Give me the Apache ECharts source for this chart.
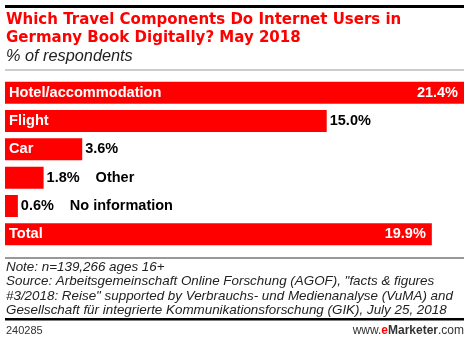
<!DOCTYPE html>
<html><head><meta charset="utf-8">
<script src="https://cdn.jsdelivr.net/npm/echarts@6/dist/echarts.min.js"></script>
<style>html,body{margin:0;padding:0;background:#fff}#c{width:470px;height:342px}</style>
</head><body><div id="c"></div>
<script>
var categories = ['Hotel/accommodation', 'Flight', 'Car', 'Other', 'No information', 'Total'];
var values = [21.4, 15.0, 3.6, 1.8, 0.6, 19.9];
var nameInside = [true, true, true, false, false, true];
var valueInside = [true, false, false, false, false, true];

var F = '"Liberation Sans", Arial, sans-serif';
var FT = '"DejaVu Sans", sans-serif';
var chart = echarts.init(document.getElementById('c'), null, {renderer: 'canvas'});

var nameData = values.map(function (v, i) {
  return {value: v, label: {show: nameInside[i]}};
});
var valData = values.map(function (v, i) {
  var inside = valueInside[i];
  return {
    value: v,
    label: {
      show: true,
      position: inside ? 'insideRight' : 'right',
      distance: inside ? 6 : 3,
      color: inside ? '#fff' : '#000',
      formatter: (nameInside[i] ? '{v|' + v.toFixed(1) + '%}' : '{w|' + v.toFixed(1) + '%}{n|' + categories[i] + '}')
    }
  };
});

var option = {
  animation: false,
  grid: {left: 5, top: 78.5, width: 459, height: 170, containLabel: false},
  xAxis: {type: 'value', min: 0, max: 21.4, show: false},
  yAxis: {type: 'category', data: categories, inverse: true, show: false},
  series: [
    {
      type: 'bar', data: nameData, barWidth: 22,
      itemStyle: {color: '#ff0000'},
      label: {position: 'insideLeft', distance: 4, formatter: '{b}', color: '#fff',
        fontFamily: F, fontWeight: 'bold', fontSize: 14.6}
    },
    {
      type: 'bar', data: valData, barWidth: 22, barGap: '-100%',
      itemStyle: {color: 'rgba(0,0,0,0)'},
      label: {fontFamily: F, fontWeight: 'bold', fontSize: 14.5,
        rich: {
          v: {fontFamily: F, fontWeight: 'bold', fontSize: 14.5},
          w: {fontFamily: F, fontWeight: 'bold', fontSize: 14.5, width: 49, color: '#000'},
          n: {fontFamily: F, fontWeight: 'bold', fontSize: 14.5, color: '#000'}
        }}
    }
  ],
  graphic: [
    {type: 'rect', shape: {x: 5, y: 5, width: 459, height: 3}, style: {fill: '#000'}},
    {type: 'text', left: 6, top: 11.5, style: {text: 'Which Travel Components Do Internet Users in\nGermany Book Digitally? May 2018', fill: '#ff0000', font: 'bold 15px ' + FT, lineHeight: 17.5}},
    {type: 'text', left: 6, top: 48, style: {text: '% of respondents', fill: '#222', font: 'italic 16.3px ' + F}},
    {type: 'rect', shape: {x: 5, y: 69.5, width: 459, height: 1}, style: {fill: '#999'}},
    {type: 'rect', shape: {x: 5, y: 257.5, width: 459, height: 1}, style: {fill: '#333'}},
    {type: 'text', left: 6, top: 260, style: {text: 'Note: n=139,266 ages 16+\nSource: Arbeitsgemeinschaft Online Forschung (AGOF), "facts & figures\n#3/2018: Reise" supported by Verbrauchs- und Medienanalyse (VuMA) and\nGesellschaft f\u00fcr integrierte Kommunikationsforschung (GIK), July 25, 2018', fill: '#222', font: 'italic 13.4px ' + F, lineHeight: 14.5}},
    {type: 'rect', shape: {x: 5, y: 318, width: 459, height: 2.5}, style: {fill: '#000'}},
    {type: 'text', left: 6, top: 325, style: {text: '240285', fill: '#333', font: '11px ' + F}},
    {type: 'text', right: 6, top: 324.5, style: {text: '{a|www.}{b|e}{c|Marketer}{a|.com}', font: '12px ' + F,
      rich: {a: {fill: '#333', font: '12px ' + F}, b: {fill: '#ff0000', font: 'bold 12px ' + F}, c: {fill: '#333', font: 'bold 12px ' + F}}}}
  ]
};
chart.setOption(option);
</script></body></html>
